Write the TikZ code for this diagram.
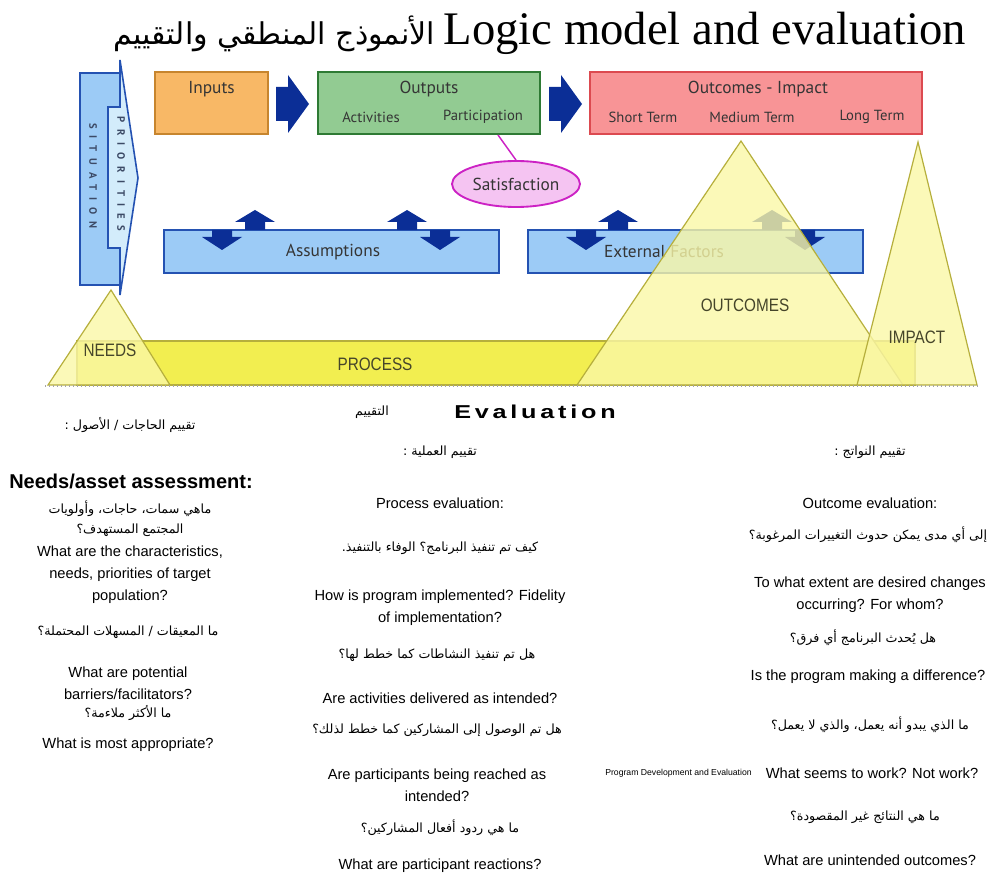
\documentclass[tikz,border=0pt]{standalone}
\usepackage{fontspec}
\setmainfont{Liberation Sans}
\newfontfamily\titlefont{Liberation Serif}
\newfontfamily\arabicfont[Script=Arabic]{DejaVu Sans}
\newfontfamily\diagfont{PT Sans}
\newfontfamily\spacedfont[LetterSpace=65]{PT Sans}
\newfontfamily\evalfont[LetterSpace=15]{Liberation Sans}
\TeXXeTstate=1
\usetikzlibrary{shapes.geometric}
\newlength\px \setlength\px{0.75pt}
\newcommand\ar[1]{{\arabicfont\beginR #1\endR}}

\definecolor{navy}{HTML}{0B2E96}
\definecolor{inFill}{HTML}{F8B866}
\definecolor{inLine}{HTML}{C7852E}
\definecolor{outFill}{HTML}{92CB92}
\definecolor{outLine}{HTML}{2E7A34}
\definecolor{ocFill}{HTML}{F89496}
\definecolor{ocLine}{HTML}{DC4A50}
\definecolor{bxFill}{HTML}{9CCBF6}
\definecolor{bxLine}{HTML}{2452B2}
\definecolor{prFill}{HTML}{D3ECFB}
\definecolor{satFill}{HTML}{F5C4F2}
\definecolor{satLine}{HTML}{CC22C4}
\definecolor{triFill}{HTML}{FAF7A6}
\definecolor{triLine}{HTML}{B6AF3C}
\definecolor{bandFill}{HTML}{F2EE50}
\definecolor{lblGray}{HTML}{353535}
\definecolor{triText}{HTML}{45452A}
\definecolor{slate}{HTML}{3C4A66}

\tikzset{
  box/.style={draw, line width=1.4pt, inner sep=0pt},
  lbl/.style={font=\diagfont\fontsize{13}{15}\selectfont, text=lblGray, inner sep=0pt},
  sublbl/.style={font=\diagfont\fontsize{11}{13}\selectfont, text=lblGray, inner sep=0pt},
  vlbl/.style={font=\spacedfont\bfseries\fontsize{8}{9}\selectfont, text=slate, rotate=-90, inner sep=0pt},
  tri/.style={fill=triFill, fill opacity=0.8, draw=triLine, line width=0.9pt},
  trilbl/.style={font=\fontsize{13.5}{15}\selectfont, text=triText, inner sep=0pt},
  q/.style={font=\fontsize{11}{16.5}\selectfont, align=center, inner sep=0pt},
  qa/.style={font=\arabicfont\fontsize{9.5}{15}\selectfont, align=center, inner sep=0pt},
  rblock/.pic={\fill[navy] (0,-17)--(12,-17)--(12,-29)--(33,0)--(12,29)--(12,17)--(0,17)--cycle;},
  upblock/.pic={\fill[navy] (0,0)--(20,12)--(10,12)--(10,20)--(-10,20)--(-10,12)--(-20,12)--cycle;},
  downblock/.pic={\fill[navy] (0,0)--(20,-13)--(10,-13)--(10,-20)--(-10,-20)--(-10,-13)--(-20,-13)--cycle;},
}

\begin{document}
\begin{tikzpicture}[x=0.75pt, y=-0.75pt]
\useasboundingbox (0,0) rectangle (1000,884);

% title
\node[font=\titlefont\fontsize{35}{40}\selectfont, anchor=base east, inner sep=0pt] (titleEn) at (966,45) {Logic model and evaluation};
\node[font=\arabicfont\fontsize{22.5}{28}\selectfont, anchor=base east, inner sep=0pt, xshift=-6pt] (titleAr) at (titleEn.base west) {\beginR الأنموذج المنطقي والتقييم\endR};

% situation and priorities
\node[box, draw=bxLine, fill=bxFill, minimum width=40\px, minimum height=212\px] (situation) at (100,179) {};
\filldraw[draw=bxLine, fill=prFill, line width=1.2pt] (108,107)--(120,107)--(120,60)--(138,178)--(120,295)--(120,248)--(108,248)--cycle;
\node[vlbl] (sitText) at (93,176) {SITUATION};
\node[vlbl] (prText) at (121,174) {PRIORITIES};

% top row of boxes
\node[box, draw=inLine, fill=inFill, minimum width=113\px, minimum height=62\px] (inputs) at (211.5,103) {};
\node[lbl] (inputsT) at (211.5,89) {Inputs};
\node[box, draw=outLine, fill=outFill, minimum width=222\px, minimum height=62\px] (outputs) at (429,103) {};
\node[lbl] (outputsT) at (429,89) {Outputs};
\node[sublbl] (activ) at (371,117) {Activities};
\node[sublbl] (partic) at (483,117) {Participation};
\node[box, draw=ocLine, fill=ocFill, minimum width=332\px, minimum height=62\px] (outcomes) at (756,103) {};
\node[lbl] (outcomesT) at (758,89) {Outcomes - Impact};
\node[sublbl] (shortT) at (643,117) {Short Term};
\node[sublbl] (medT) at (752,117) {Medium Term};
\node[sublbl] (longT) at (872,117) {Long Term};
\pic at (276,104) {rblock};
\pic at (549,104) {rblock};

% satisfaction
\node[ellipse, draw=satLine, fill=satFill, line width=1.4pt, minimum width=128\px, minimum height=46\px, inner sep=0pt] (sat) at (516,184) {};
\node[lbl] (satT) at (516,184) {Satisfaction};
\coordinate (partFoot) at (498,135);
\draw[satLine, line width=1.1pt] (partFoot) -- (sat.north);

% assumptions and external factors
\node[box, draw=bxLine, fill=bxFill, minimum width=335\px, minimum height=43\px] (assump) at (331.5,251.5) {};
\node[lbl] (assumpT) at (333,252) {Assumptions};
\node[box, draw=bxLine, fill=bxFill, minimum width=335\px, minimum height=43\px] (extern) at (695.5,251.5) {};
\node[lbl] (externT) at (664,252) {External Factors};
\pic at (255,210) {upblock};
\pic at (222,250) {downblock};
\pic at (407,210) {upblock};
\pic at (440,250) {downblock};
\pic at (618,210) {upblock};
\pic at (586,250) {downblock};
\pic at (772,210) {upblock};
\pic at (805,250) {downblock};

% process band and the three peaks
\filldraw[fill=bandFill, draw=triLine, line width=0.9pt] (77,341) rectangle (915,385);
\filldraw[tri] (48,385) -- (111,290) -- (170,385) -- cycle;
\filldraw[tri] (577,385) -- (741,141) -- (903,385) -- cycle;
\filldraw[tri] (857,385) -- (918,142) -- (977,385) -- cycle;
\draw[gray!70, dotted, line width=1pt] (45,386) -- (980,386);
\node[trilbl] (needsL) at (110,350) {\scalebox{0.85}[1]{NEEDS}};
\node[trilbl] (processL) at (375,364) {\scalebox{0.85}[1]{PROCESS}};
\node[trilbl] (outcomesL) at (745,305) {\scalebox{0.85}[1]{OUTCOMES}};
\node[trilbl] (impactL) at (917,337) {\scalebox{0.85}[1]{IMPACT}};

% evaluation heading
\node[qa] (evalAr) at (372,412) {\ar{التقييم}};
\node[inner sep=0pt] (evalEn) at (535,412) {\scalebox{1.35}[1]{\evalfont\bfseries\fontsize{14}{16}\selectfont Evaluation}};

% needs / asset assessment
\node[qa] (hdrL) at (130,425) {\ar{تقييم الحاجات / الأصول :}};
\node[font=\bfseries\fontsize{15}{17}\selectfont, inner sep=0pt] (needsT) at (131,481) {Needs/asset assessment:};
\node[qa] (qL1ar) at (130,519) {\ar{ماهي سمات، حاجات، وأولويات}\\\ar{المجتمع المستهدف؟}};
\node[q] (qL1) at (130,575) {What are the characteristics,\\needs, priorities of target\\population?};
\node[qa] (qL2ar) at (128,632) {\ar{ما المعيقات / المسهلات المحتملة؟}};
\node[q] (qL2) at (128,683) {What are potential\\barriers/facilitators?};
\node[qa] (qL3ar) at (128,713) {\ar{ما الأكثر ملاءمة؟}};
\node[q] (qL3) at (128,745) {What is most appropriate?};

% process evaluation
\node[qa] (hdrM) at (440,452) {\ar{تقييم العملية :}};
\node[q] (procT) at (440,503) {Process evaluation:};
\node[qa] (qM1ar) at (440,548) {\ar{كيف تم تنفيذ البرنامج؟ الوفاء بالتنفيذ.}};
\node[q] (qM1) at (440,608) {How is program implemented? Fidelity\\of implementation?};
\node[qa] (qM2ar) at (437,655) {\ar{هل تم تنفيذ النشاطات كما خطط لها؟}};
\node[q] (qM2) at (440,698) {Are activities delivered as intended?};
\node[qa] (qM3ar) at (437,730) {\ar{هل تم الوصول إلى المشاركين كما خطط لذلك؟}};
\node[q] (qM3) at (437,785) {Are participants being reached as\\intended?};
\node[font=\fontsize{6.5}{8}\selectfont, anchor=east, inner sep=0pt] (pde) at (752,773) {Program Development and Evaluation};
\node[qa] (qM4ar) at (440,828) {\ar{ما هي ردود أفعال المشاركين؟}};
\node[q] (qM4) at (440,866) {What are participant reactions?};

% outcome evaluation
\node[qa] (hdrR) at (870,452) {\ar{تقييم النواتج :}};
\node[q] (outT) at (870,503) {Outcome evaluation:};
\node[qa] (qR1ar) at (868,535) {\ar{إلى أي مدى يمكن حدوث التغييرات المرغوبة؟}};
\node[q] (qR1) at (870,595) {To what extent are desired changes\\occurring? For whom?};
\node[qa] (qR2ar) at (863,638) {\ar{هل يُحدث البرنامج أي فرق؟}};
\node[q] (qR2) at (868,677) {Is the program making a difference?};
\node[qa] (qR3ar) at (870,725) {\ar{ما الذي يبدو أنه يعمل، والذي لا يعمل؟}};
\node[q] (qR3) at (872,773) {What seems to work? Not work?};
\node[qa] (qR4ar) at (865,817) {\ar{ما هي النتائج غير المقصودة؟}};
\node[q] (qR4) at (870,860) {What are unintended outcomes?};
\end{tikzpicture}
\end{document}
